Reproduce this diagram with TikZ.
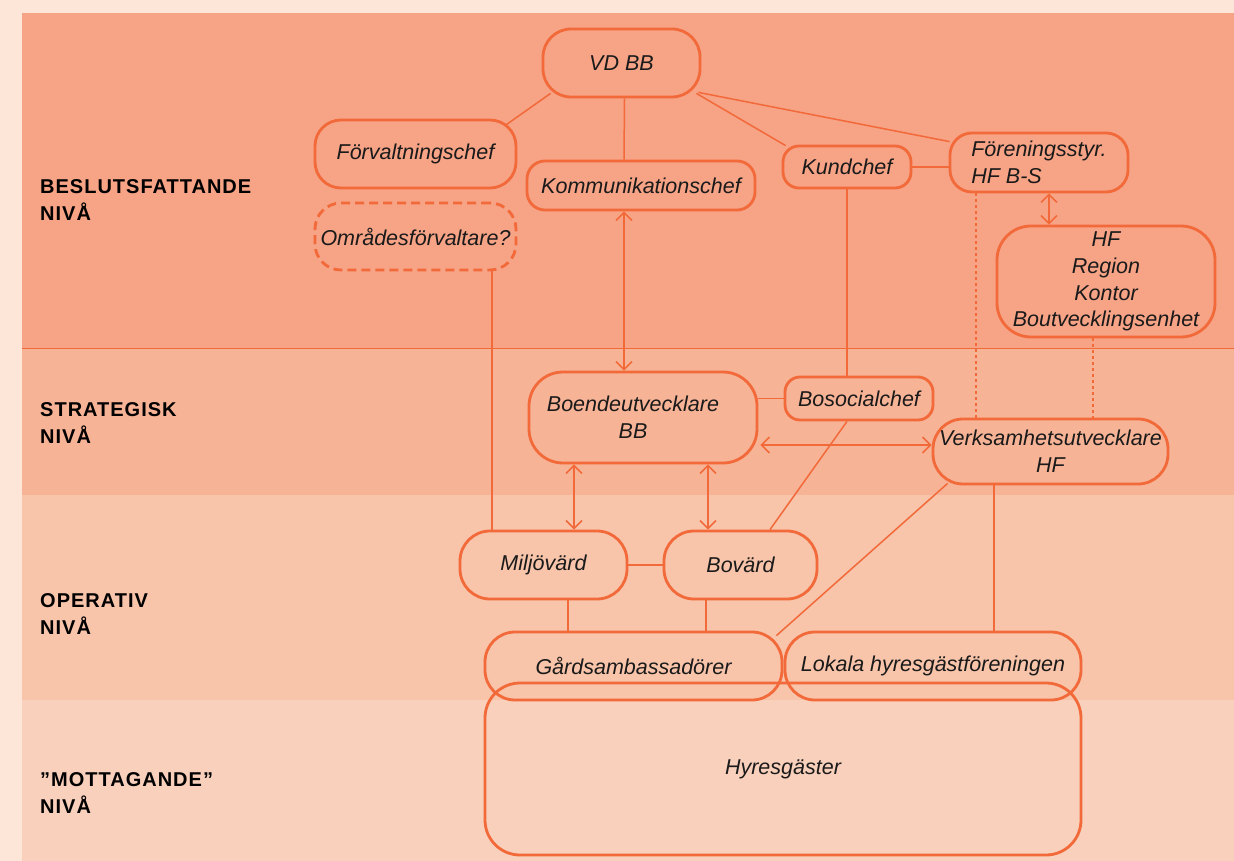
\documentclass[tikz,border=0pt]{standalone}
\usepackage{fontspec}
\setmainfont{Liberation Sans}
\newfontfamily\lblfont{Liberation Sans}[LetterSpace=5]
\usetikzlibrary{arrows.meta,calc}
\definecolor{outerbg}{HTML}{FDE5D8}
\definecolor{bandA}{HTML}{F6A386}
\definecolor{bandB}{HTML}{F7B396}
\definecolor{bandC}{HTML}{F8C4AA}
\definecolor{bandD}{HTML}{F9D0BB}
\definecolor{strokecol}{HTML}{F2693A}
\definecolor{ink}{HTML}{1A1A1A}
\begin{document}
\begin{tikzpicture}[x=1pt,y=-1pt,
  >={Straight Barb[length=8pt,width=16pt]},
  box/.style={draw=strokecol, line width=2.8pt, inner sep=0pt, align=center,
    text=ink, font=\itshape\fontsize{21.5}{26.7}\selectfont},
  conn/.style={draw=strokecol, line width=1.5pt},
  dotconn/.style={draw=strokecol, line width=1.4pt, dash pattern=on 3pt off 3pt},
  lbl/.style={anchor=base west, inner sep=0pt, text=black,
    font=\lblfont\bfseries\fontsize{20}{27}\selectfont}]
\useasboundingbox (0,0) rectangle (1234,861);
% backgrounds
\fill[outerbg] (0,0) rectangle (1234,861);
\fill[bandA] (22,13) rectangle (1234,348);
\fill[bandB] (22,348) rectangle (1234,495);
\fill[bandC] (22,495) rectangle (1234,700);
\fill[bandD] (22,700) rectangle (1234,861);
\draw[draw=strokecol, line width=0.8pt] (22,348) -- (1234,348);
% level labels
\node[lbl] (l1a) at (40,194) {BESLUTSFATTANDE};
\node[lbl] (l1b) at (40,221) {NIVÅ};
\node[lbl] (l2a) at (40,416) {STRATEGISK};
\node[lbl] (l2b) at (40,443) {NIVÅ};
\node[lbl] (l3a) at (40,607) {OPERATIV};
\node[lbl] (l3b) at (40,634) {NIVÅ};
\node[lbl] (l4a) at (40,786) {”MOTTAGANDE”};
\node[lbl] (l4b) at (40,813) {NIVÅ};
% nodes
\node[box, minimum width=157pt, minimum height=68pt, rounded corners=28pt] (vd) at (621.5,63) {VD BB};
\node[box, minimum width=201pt, minimum height=68pt, rounded corners=26pt] (forv) at (415.5,154) {Förvaltningschef};
\node[box, minimum width=228pt, minimum height=49pt, rounded corners=18pt] (komm) at (641,185.5) {Kommunikationschef};
\node[box, minimum width=128pt, minimum height=42pt, rounded corners=16pt] (kund) at (847,167) {Kundchef};
\node[box, minimum width=178pt, minimum height=59pt, rounded corners=22pt, align=left] (foren) at (1039,162.5) {Föreningsstyr.\\HF B-S};
\node[box, dash pattern=on 9pt off 5pt, minimum width=201pt, minimum height=67pt, rounded corners=26pt] (omr) at (415.5,236.5) {Områdesförvaltare?};
\node[box, minimum width=218pt, minimum height=111pt, rounded corners=34pt] (hfreg) at (1106,281.5) {HF\\Region\\Kontor\\Boutvecklingsenhet};
\node[box, minimum width=228pt, minimum height=91pt, rounded corners=34pt] (boende) at (643,417.5) {Boendeutvecklare\hspace*{20pt}\\BB\hspace*{20pt}};
\node[box, minimum width=148pt, minimum height=43pt, rounded corners=15pt] (bosoc) at (859,398.5) {Bosocialchef};
\node[box, minimum width=235pt, minimum height=65pt, rounded corners=30pt] (verks) at (1050.5,451.5) {Verksamhetsutvecklare\\HF};
\node[box, minimum width=167pt, minimum height=68pt, rounded corners=30pt] (milj) at (543.5,565) {Miljövärd};
\node[box, minimum width=153pt, minimum height=68pt, rounded corners=30pt] (bovard) at (740.5,565) {Bovärd};
\node[box, minimum width=297pt, minimum height=68pt, rounded corners=30pt] (gard) at (633.5,666) {Gårdsambassadörer};
\node[box, minimum width=296pt, minimum height=68pt, rounded corners=30pt] (lokala) at (933,666) {Lokala hyresgästföreningen};
\node[box, minimum width=596pt, minimum height=172pt, rounded corners=35pt] (hyres) at (783,769) {Hyresgäster};
% connectors
\draw[conn] ($(vd.south west)+(9,-5)$) -- ($(forv.north east)+(-11,6)$);
\draw[conn] ($(vd.south)+(3,0)$) -- ($(komm.north)+(-17,0)$);
\draw[conn] ($(vd.south east)+(-5,-5)$) -- ($(kund.north west)+(4,1)$);
\draw[conn] ($(vd.south east)+(-3,-6)$) -- ($(foren.north west)+(1,10)$);
\draw[conn] (kund.east) -- (kund.east -| foren.west);
\draw[conn,<->] ($(komm.south)+(-17,0)$) -- ($(boende.north)+(-19,0)$);
\draw[conn] (kund.south) -- (kund.south |- bosoc.north);
\draw[conn] ($(omr.south)+(76.5,0)$) -- ($(milj.north)+(-51.5,0)$);
\draw[conn,<->] ($(foren.south)+(10,0)$) -- ($(hfreg.north)+(-57,0)$);
\draw[dotconn] ($(foren.south)+(-63,0)$) -- ($(verks.north)+(-74.5,0)$);
\draw[dotconn] ($(hfreg.south)+(-13,0)$) -- ($(verks.north)+(42.5,0)$);
\draw[conn] (bosoc.west -| boende.east) -- (bosoc.west);
\draw[conn,<->] ($(boende.east)+(2,27.5)$) -- ($(verks.west)+(0,-6.5)$);
\draw[conn,<->] ($(boende.south)+(-69,0)$) -- ($(milj.north)+(30.5,0)$);
\draw[conn,<->] ($(boende.south)+(65,0)$) -- ($(bovard.north)+(-32.5,0)$);
\draw[conn] ($(bosoc.south)+(-12,0)$) -- ($(bovard.north)+(29.5,0)$);
\draw[conn] (milj.east) -- (bovard.west);
\draw[conn] ($(milj.south)+(24.5,0)$) -- ($(gard.north)+(-65.5,0)$);
\draw[conn] ($(bovard.south)+(-34.5,0)$) -- ($(gard.north)+(72.5,0)$);
\draw[conn] ($(verks.south west)+(16,-2)$) -- ($(gard.north east)+(-7,5)$);
\draw[conn] ($(verks.south)+(-56.5,0)$) -- ($(lokala.north)+(61,0)$);
\end{tikzpicture}
\end{document}
